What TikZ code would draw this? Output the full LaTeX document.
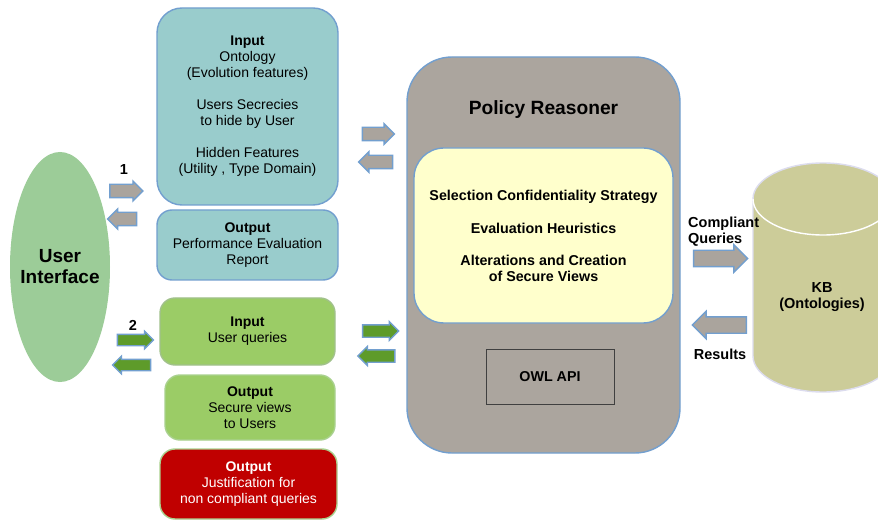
\documentclass[tikz,border=0pt]{standalone}
\usepackage{fontspec}
\setmainfont{Liberation Sans}
\usetikzlibrary{shapes.arrows,shapes.geometric}

\definecolor{edgeblue}{HTML}{729FCF}
\definecolor{tealfill}{HTML}{99CCCC}
\definecolor{leaffill}{HTML}{9BCC66}
\definecolor{leafedge}{HTML}{A9D18E}
\definecolor{alertred}{HTML}{C00000}
\definecolor{uifill}{HTML}{9CCC98}
\definecolor{stonefill}{HTML}{ABA59E}
\definecolor{creamfill}{HTML}{FFFFCC}
\definecolor{kbfill}{HTML}{CCCC99}
\definecolor{kbedge}{HTML}{DCDCEE}
\definecolor{arrowgrey}{HTML}{AAA49D}
\definecolor{arrowgreen}{HTML}{5E9B2A}

\begin{document}
\begin{tikzpicture}[x=1pt,y=1pt,
  body/.style={font=\fontsize{14}{16}\selectfont},
  panel/.style={draw=edgeblue, line width=1.4pt, align=center, inner sep=0pt,
                rounded corners=#1, body},
  panel/.default=15pt,
  blockarrow/.style={single arrow, draw=edgeblue, line width=1.4pt, inner xsep=0pt,
                     single arrow head indent=0pt, line join=miter},
  greyarrow/.style={blockarrow, fill=arrowgrey},
  greenarrow/.style={blockarrow, fill=arrowgreen},
  leftward/.style={shape border rotate=180},
  label/.style={font=\fontsize{14.5}{16}\selectfont\bfseries, inner sep=0pt},
  corefont/.style={font=\fontsize{14.3}{16}\selectfont\bfseries, align=center, inner sep=0pt}
]
\useasboundingbox (0,0) rectangle (878,520);
\fill[white] (0,0) rectangle (878,520);

% User interface
\node[ellipse, fill=uifill, draw=none, minimum width=100pt, minimum height=230pt,
      inner sep=0pt] (ui) at (60,253) {};
\node[align=center, inner sep=0pt, font=\fontsize{19}{21}\selectfont\bfseries]
  (uiText) at (ui.center) {User\\Interface};

% Left column panels
\node[panel=25pt, fill=tealfill, minimum width=181pt, minimum height=197pt]
  (inOnto) at (247.5,413.5)
  {\textbf{Input}\\Ontology\\(Evolution features)\\[16pt]
   Users Secrecies\\to hide by User\\[16pt]
   Hidden Features\\(Utility , Type Domain)};
\node[panel, fill=tealfill, minimum width=181pt, minimum height=70pt]
  (outPerf) at (247.5,275)
  {\textbf{Output}\\Performance Evaluation\\Report};
\node[panel, fill=leaffill, draw=leafedge!80!gray, minimum width=175pt, minimum height=67pt]
  (inQuery) at (247.5,188.5)
  {\textbf{Input}\\User queries};
\node[panel, fill=leaffill, draw=leafedge, minimum width=170pt, minimum height=65pt]
  (outViews) at (250,112.5)
  {\textbf{Output}\\Secure views\\to Users};
\node[panel, fill=alertred, draw=leafedge, text=white, minimum width=177pt, minimum height=70pt]
  (outJust) at (248.5,36)
  {\textbf{Output}\\Justification for\\non compliant queries};

% Policy reasoner
\node[draw=edgeblue, line width=1.4pt, fill=stonefill, rounded corners=45pt,
      minimum width=273pt, minimum height=396pt, inner sep=0pt]
  (reasoner) at (543.5,265) {};
\node[font=\fontsize{19.2}{22}\selectfont\bfseries, inner sep=0pt]
  (reasonerTitle) at (543.5,410) {Policy Reasoner};
\node[draw=edgeblue, line width=1.4pt, fill=creamfill, rounded corners=30pt,
      minimum width=259pt, minimum height=175pt, inner sep=0pt]
  (core) at (543.5,284.5) {};
\node[corefont] (strategy) at (543.5,323) {Selection Confidentiality Strategy};
\node[corefont] (heuristics) at (543.5,292) {Evaluation Heuristics};
\node[corefont] (alterations) at (543.5,252) {Alterations and Creation\\of Secure Views};
\node[draw=black!75, line width=0.8pt, fill=stonefill, minimum width=128pt,
      minimum height=55pt, inner sep=0pt, font=\fontsize{14.3}{16}\selectfont\bfseries]
  (owl) at (550,143.5) {OWL API};

% Knowledge base cylinder
\fill[kbfill] (753,321) -- (753,164) arc[start angle=180, end angle=360, x radius=70pt, y radius=36pt]
  -- (893,321) arc[start angle=0, end angle=180, x radius=70pt, y radius=36pt] -- cycle;
\draw[kbedge, line width=1.4pt] (893,321) arc[start angle=0, end angle=180, x radius=70pt, y radius=36pt]
  -- (753,164) arc[start angle=180, end angle=360, x radius=70pt, y radius=36pt] -- (893,321);
\draw[white, line width=1.4pt] (753,321) arc[start angle=180, end angle=360, x radius=70pt, y radius=36pt];
\node[label, align=center] (kb) at (822,222.5) {KB\\(Ontologies)};

% Exchange arrows: user interface <-> panels
\node[label] (one) at (124,350) {1};
\node[greyarrow, minimum height=33pt, inner ysep=6pt, single arrow head extend=3.2pt] (a1r) at (123,329) {};
\node[greyarrow, leftward, minimum height=29pt, inner ysep=6pt, single arrow head extend=3.2pt] (a1l) at (125.5,301) {};
\node[label] (two) at (133,195) {2};
\node[greenarrow, minimum height=36pt, inner ysep=5pt, single arrow head extend=3pt] (a2r) at (132.5,180) {};
\node[greenarrow, leftward, minimum height=38pt, inner ysep=5pt, single arrow head extend=3pt] (a2l) at (134.5,155) {};

% Exchange arrows: panels <-> reasoner
\node[greyarrow, minimum height=32pt, inner ysep=6pt, single arrow head extend=3.5pt] (m1r) at (375,386) {};
\node[greyarrow, leftward, minimum height=34pt, inner ysep=6pt, single arrow head extend=3.5pt] (m1l) at (379,358) {};
\node[greenarrow, minimum height=36pt, inner ysep=5.5pt, single arrow head extend=3.2pt] (m2r) at (377.5,189) {};
\node[greenarrow, leftward, minimum height=37pt, inner ysep=5.5pt, single arrow head extend=3.2pt] (m2l) at (379.5,164) {};

% Exchange arrows: reasoner <-> knowledge base
\node[greyarrow, minimum height=54pt, inner ysep=7.5pt, single arrow head extend=5.5pt] (kr) at (716.5,261.5) {};
\node[greyarrow, leftward, minimum height=54pt, inner ysep=7.5pt, single arrow head extend=5.5pt] (kl) at (723.5,195) {};
\node[label, anchor=west, align=left] (compliant) at (688,288) {Compliant\\Queries};
\node[label] (results) at (720,166) {Results};
\end{tikzpicture}
\end{document}
